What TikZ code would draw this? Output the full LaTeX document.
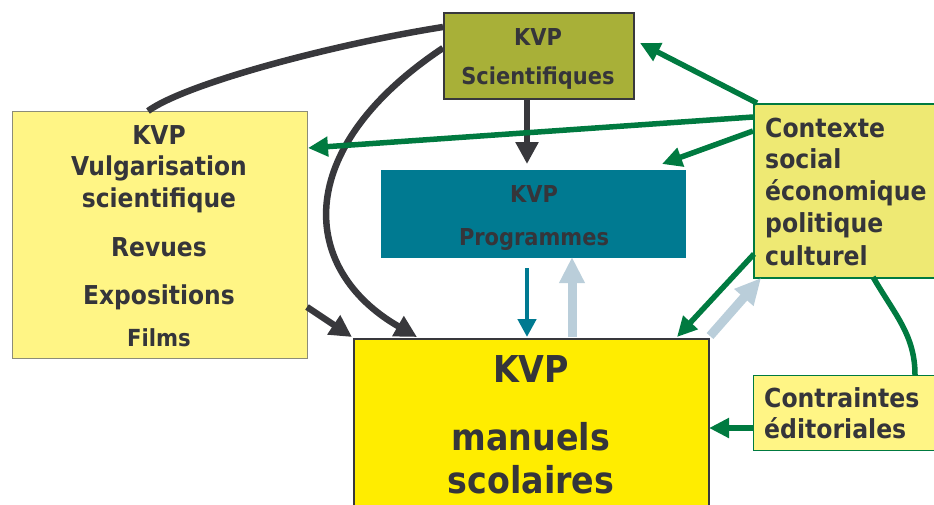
\documentclass[tikz,border=0pt]{standalone}
\usepackage{fontspec}
\setmainfont{DejaVu Sans Condensed}
\usetikzlibrary{arrows.meta}
\definecolor{cOlive}{RGB}{168,176,56}
\definecolor{cVulg}{RGB}{255,245,133}
\definecolor{cTeal}{RGB}{0,122,145}
\definecolor{cYel}{RGB}{255,237,0}
\definecolor{cCtx}{RGB}{238,233,115}
\definecolor{cGreen}{RGB}{0,122,64}
\definecolor{cDark}{RGB}{56,56,60}
\definecolor{cLight}{RGB}{186,206,218}
\definecolor{cText}{RGB}{53,53,58}
\definecolor{cGrayB}{RGB}{140,140,120}
\begin{document}
\begin{tikzpicture}[x=1pt,y=-1pt,
  box/.style={inner sep=0pt, anchor=north west},
  txt/.style={anchor=base, text=cText, inner sep=0pt, font=\bfseries},
  ltxt/.style={anchor=base west, text=cText, inner sep=0pt, font=\bfseries},
  darr/.style={draw=cDark, line width=6.5pt, -{Triangle[width=22pt,length=22pt]}},
  garr/.style={draw=cGreen, line width=5.5pt, -{Triangle[width=19pt,length=20pt]}},
  larr/.style={draw=cLight, line width=9pt, -{Triangle[width=24pt,length=26pt]}},
  tarr/.style={draw=cTeal, line width=4.5pt, -{Triangle[width=18pt,length=18pt]}}]
\useasboundingbox (0,0) rectangle (934,504);
\begin{scope}
\clip (0,0) rectangle (934,504);
% boxes
\node[box, draw=cDark, line width=2pt, fill=cOlive, minimum width=190pt, minimum height=86pt] (sci) at (443,12) {};
\node[box, draw=cGrayB, line width=1pt, fill=cVulg, minimum width=295pt, minimum height=247pt] (vulg) at (12,111) {};
\node[box, fill=cTeal, minimum width=305pt, minimum height=88pt] (prog) at (381,170) {};
\node[box, draw=cDark, line width=2pt, fill=cYel, minimum width=355pt, minimum height=200pt] (man) at (353,338) {};
\node[box, draw=cGreen, line width=2pt, fill=cCtx, minimum width=200pt, minimum height=174pt] (ctx) at (753,103) {};
\node[box, draw=cGreen, line width=1pt, fill=cVulg, minimum width=200pt, minimum height=75pt] (cont) at (753,375) {};
% named anchor points
\coordinate (sciL1) at (443,27);
\coordinate (sciL2) at (443,48);
\coordinate (sciB) at (527,100);
\coordinate (sciR) at (640,43);
\coordinate (vulgT) at (148,111);
\coordinate (vulgR1) at (308,148);
\coordinate (vulgR2) at (307,307);
\coordinate (progT) at (527,164);
\coordinate (progTR) at (662,164);
\coordinate (progB1) at (527,268);
\coordinate (progB2) at (572,257);
\coordinate (manT1) at (352,337);
\coordinate (manT2) at (417,337);
\coordinate (manT3) at (527,337);
\coordinate (manT4) at (572,337);
\coordinate (manT5) at (677,337);
\coordinate (manT6) at (710,336);
\coordinate (manR) at (709,428);
\coordinate (ctx1) at (757,103);
\coordinate (ctx2) at (753,117);
\coordinate (ctx3) at (753,131);
\coordinate (ctx4) at (754,254);
\coordinate (ctx5) at (761,278);
\coordinate (ctxB) at (873,277);
\coordinate (contT) at (915,375);
\coordinate (contL) at (753,428);
% connectors
\draw[cDark, line width=6.5pt] (vulgT) .. controls (185,84) and (330,45) .. (sciL1);
\draw[darr] (sciL2) .. controls (290,150) and (300,270) .. (manT2);
\draw[darr] (sciB) -- (progT);
\draw[darr] (vulgR2) -- (manT1);
\draw[tarr] (progB1) -- (manT3);
\draw[larr] (manT4) -- (progB2);
\draw[larr] (manT6) -- (ctx5);
\draw[garr] (ctx1) -- (sciR);
\draw[garr] (ctx2) -- (vulgR1);
\draw[garr] (ctx3) -- (progTR);
\draw[garr] (ctx4) -- (manT5);
\draw[garr] (contL) -- (manR);
\draw[cGreen, line width=5.5pt] (ctxB) .. controls (895,315) and (915,335) .. (contT);
% texts
\node[txt, font=\bfseries\fontsize{23.3}{28}\selectfont] (sciA) at (538,45) {KVP};
\node[txt, font=\bfseries\fontsize{23.3}{28}\selectfont] (sciB2) at (538,84) {Scientifiques};
\node[txt, font=\bfseries\fontsize{26}{30}\selectfont] (vA) at (159,144) {KVP};
\node[txt, font=\bfseries\fontsize{26}{30}\selectfont] (vB) at (159,175) {Vulgarisation};
\node[txt, font=\bfseries\fontsize{26}{30}\selectfont] (vC) at (159,207) {scientifique};
\node[txt, font=\bfseries\fontsize{26}{30}\selectfont] (vD) at (159,256) {Revues};
\node[txt, font=\bfseries\fontsize{26}{30}\selectfont] (vE) at (159,304) {Expositions};
\node[txt, font=\bfseries\fontsize{23.5}{28}\selectfont] (vF) at (159,346) {Films};
\node[txt, font=\bfseries\fontsize{23.3}{28}\selectfont] (pA) at (534,202) {KVP};
\node[txt, font=\bfseries\fontsize{23.3}{28}\selectfont] (pB) at (534,245) {Programmes};
\node[txt, font=\bfseries\fontsize{37}{42}\selectfont] (mA) at (531,382) {KVP};
\node[txt, font=\bfseries\fontsize{37}{42}\selectfont] (mB) at (531,450) {manuels};
\node[txt, font=\bfseries\fontsize{37}{42}\selectfont] (mC) at (531,493) {scolaires};
\node[ltxt, font=\bfseries\fontsize{26.2}{30}\selectfont] (cA) at (765,137) {Contexte};
\node[ltxt, font=\bfseries\fontsize{26.2}{30}\selectfont] (cB) at (765,168) {social};
\node[ltxt, font=\bfseries\fontsize{26.2}{30}\selectfont] (cC) at (765,200) {économique};
\node[ltxt, font=\bfseries\fontsize{26.2}{30}\selectfont] (cD) at (765,232) {politique};
\node[ltxt, font=\bfseries\fontsize{26.2}{30}\selectfont] (cE) at (765,265) {culturel};
\node[ltxt, font=\bfseries\fontsize{26.2}{30}\selectfont] (kA) at (764,407) {Contraintes};
\node[ltxt, font=\bfseries\fontsize{26.2}{30}\selectfont] (kB) at (764,438) {éditoriales};
\end{scope}
\end{tikzpicture}
\end{document}
